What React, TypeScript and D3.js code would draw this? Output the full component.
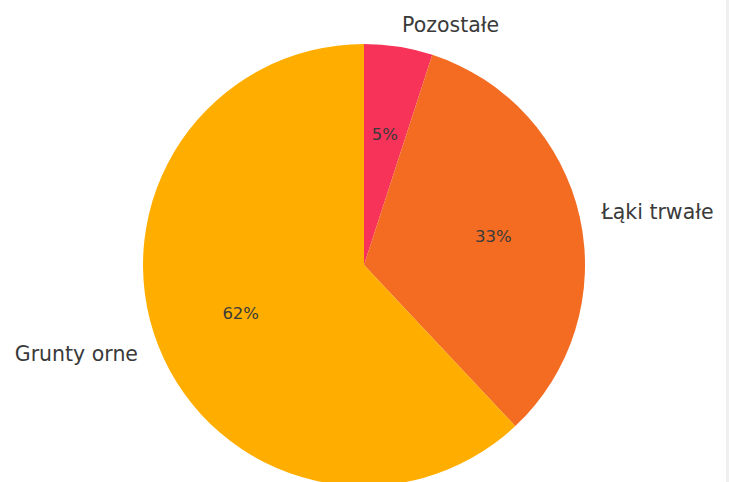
import { useEffect, useRef } from 'react';
import * as d3 from 'd3';

const CATEGORIES = ['Pozostałe', 'Łąki trwałe', 'Grunty orne'];
const VALUES = [5, 33, 62];
const COLORS = ['#f73359', '#f46b22', '#ffae00'];

export default function App() {
  const svgRef = useRef<SVGSVGElement | null>(null);

  useEffect(() => {
    if (!svgRef.current) return;
    const W = 729;
    const H = 482;
    const CX = 364;
    const CY = 265;
    const R = 221;

    const svg = d3.select(svgRef.current);
    svg.selectAll('*').remove();
    svg.attr('width', W).attr('height', H).attr('viewBox', `0 0 ${W} ${H}`);

    svg.append('rect').attr('width', W).attr('height', H).attr('fill', '#ffffff');
    // thin grey strip at right edge
    svg.append('rect').attr('x', 726).attr('y', 0).attr('width', 3).attr('height', H).attr('fill', '#f0f0f0');

    const data = CATEGORIES.map((c, i) => ({ label: c, value: VALUES[i], color: COLORS[i] }));
    const pie = d3.pie<typeof data[number]>().value(d => d.value).sort(null);
    const arcs = pie(data);
    const arc = d3.arc<d3.PieArcDatum<typeof data[number]>>().innerRadius(0).outerRadius(R);

    const g = svg.append('g').attr('transform', `translate(${CX},${CY})`);
    g.selectAll('path')
      .data(arcs)
      .join('path')
      .attr('d', arc)
      .attr('fill', d => d.data.color);

    const total = d3.sum(VALUES);
    const mid = (d: d3.PieArcDatum<any>) => (d.startAngle + d.endAngle) / 2;

    // percentage labels
    g.selectAll('text.pct')
      .data(arcs)
      .join('text')
      .attr('class', 'pct')
      .attr('x', d => Math.sin(mid(d)) * R * 0.6)
      .attr('y', d => -Math.cos(mid(d)) * R * 0.6)
      .attr('text-anchor', 'middle')
      .attr('dominant-baseline', 'central')
      .attr('font-family', 'DejaVu Sans, sans-serif')
      .attr('font-size', 16.5)
      .attr('fill', '#3a3a3a')
      .text(d => `${Math.round((d.data.value / total) * 100)}%`);

    // category labels
    g.selectAll('text.lbl')
      .data(arcs)
      .join('text')
      .attr('class', 'lbl')
      .attr('x', d => Math.sin(mid(d)) * R * 1.1)
      .attr('y', d => -Math.cos(mid(d)) * R * 1.1)
      .attr('text-anchor', d => (Math.sin(mid(d)) >= 0 ? 'start' : 'end'))
      .attr('dominant-baseline', 'central')
      .attr('font-family', 'DejaVu Sans, sans-serif')
      .attr('font-size', 20.5)
      .attr('fill', '#3a3a3a')
      .text(d => d.data.label);
  }, []);

  return (
    <div style={{ position: 'fixed', left: 0, top: 0 }}>
      <svg ref={svgRef} style={{ display: 'block' }} />
    </div>
  );
}
